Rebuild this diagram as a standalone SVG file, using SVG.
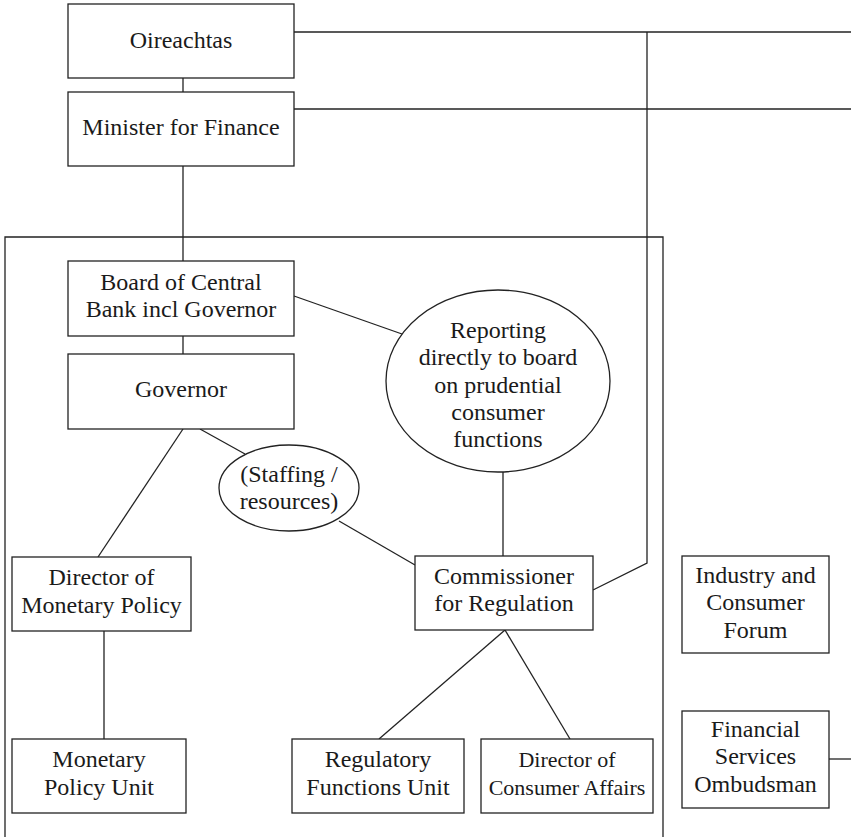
<svg xmlns="http://www.w3.org/2000/svg" width="851" height="837" viewBox="0 0 851 837">
<style>
.box{fill:#fff;stroke:#222;stroke-width:1.3}
.ell{fill:#fff;stroke:#222;stroke-width:1.3}
.ln{fill:none;stroke:#222;stroke-width:1.3}
text{font-family:"Liberation Serif","Times New Roman",serif;font-size:24px;fill:#1a1a1a;text-anchor:middle}
.sm{font-size:22px}
</style>
<rect width="851" height="837" fill="#fff"/>
<g id="connectors">
<polyline class="ln" points="294,32 851,32"/>
<polyline class="ln" points="294,109 851,109"/>
<polyline class="ln" points="183,78 183,92"/>
<polyline class="ln" points="183,166 183,261"/>
<polyline class="ln" points="647,32 647,563 593,590"/>
<polyline class="ln" points="183,336 183,354"/>
<polyline class="ln" points="294,296 402,334"/>
<polyline class="ln" points="503,472 503,556"/>
<polyline class="ln" points="200,429 245,454"/>
<polyline class="ln" points="339,521 415,565"/>
<polyline class="ln" points="183,429 98,557"/>
<polyline class="ln" points="104,631 104,739"/>
<polyline class="ln" points="505,630 379,739"/>
<polyline class="ln" points="505,630 570,739"/>
<polyline class="ln" points="829,759 851,759"/>
</g>
<g id="central-bank-container">
<polyline class="ln" points="5,842 5,237 663,237 663,842"/>
</g>
<g id="oireachtas">
<rect class="box" x="68" y="4" width="226" height="74"/>
<text x="181" y="48">Oireachtas</text>
</g>
<g id="minister">
<rect class="box" x="68" y="92" width="226" height="74"/>
<text x="181" y="135">Minister for Finance</text>
</g>
<g id="board">
<rect class="box" x="68" y="261" width="226" height="75"/>
<text x="181" y="290">Board of Central</text>
<text x="181" y="317">Bank incl Governor</text>
</g>
<g id="governor">
<rect class="box" x="68" y="354" width="226" height="75"/>
<text x="181" y="397">Governor</text>
</g>
<g id="reporting">
<ellipse class="ell" cx="498" cy="381" rx="112" ry="91"/>
<text x="498" y="338">Reporting</text>
<text x="498" y="365">directly to board</text>
<text x="498" y="393">on prudential</text>
<text x="498" y="420">consumer</text>
<text x="498" y="447">functions</text>
</g>
<g id="staffing">
<ellipse class="ell" cx="289" cy="488" rx="70" ry="43"/>
<text x="289" y="482">(Staffing /</text>
<text x="289" y="509">resources)</text>
</g>
<g id="director-monetary">
<rect class="box" x="12" y="557" width="179" height="74"/>
<text x="101.5" y="585">Director of</text>
<text x="101.5" y="613">Monetary Policy</text>
</g>
<g id="monetary-unit">
<rect class="box" x="12" y="739" width="174" height="74"/>
<text x="99" y="767">Monetary</text>
<text x="99" y="795">Policy Unit</text>
</g>
<g id="commissioner">
<rect class="box" x="415" y="556" width="178" height="74"/>
<text x="504" y="584">Commissioner</text>
<text x="504" y="611">for Regulation</text>
</g>
<g id="regulatory-unit">
<rect class="box" x="292" y="739" width="172" height="74"/>
<text x="378" y="767">Regulatory</text>
<text x="378" y="795">Functions Unit</text>
</g>
<g id="director-consumer">
<rect class="box" x="481" y="739" width="172" height="74"/>
<text class="sm" x="567" y="767">Director of</text>
<text class="sm" x="567" y="795">Consumer Affairs</text>
</g>
<g id="forum">
<rect class="box" x="682" y="556" width="147" height="97"/>
<text x="755.5" y="583">Industry and</text>
<text x="755.5" y="610">Consumer</text>
<text x="755.5" y="638">Forum</text>
</g>
<g id="ombudsman">
<rect class="box" x="682" y="711" width="147" height="97"/>
<text x="755.5" y="737">Financial</text>
<text x="755.5" y="764">Services</text>
<text x="755.5" y="792">Ombudsman</text>
</g>
</svg>
